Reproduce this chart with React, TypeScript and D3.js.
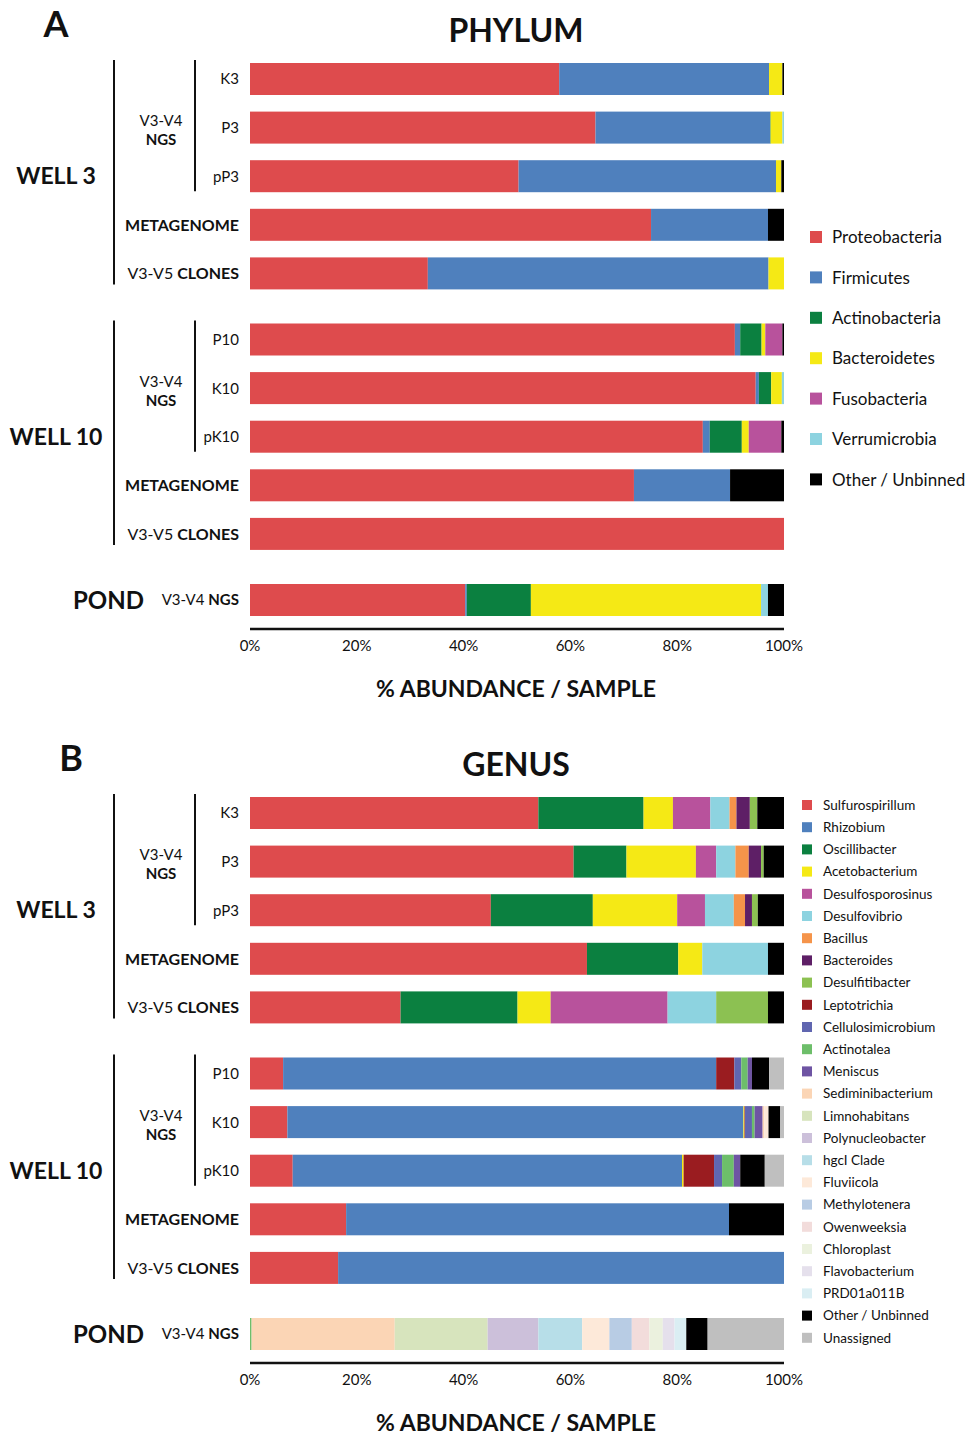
import React from "react";
import * as d3 from "d3";

const FONT = "Lato, 'Open Sans', sans-serif";

// ---------- Phylum level ----------
const phylumNames = [
  "Proteobacteria",
  "Firmicutes",
  "Actinobacteria",
  "Bacteroidetes",
  "Fusobacteria",
  "Verrumicrobia",
  "Other / Unbinned",
];
const phylumColors = ["#DE4B4D", "#4F80BD", "#0B8040", "#F5E915", "#B8529C", "#8DD3E0", "#000000"];

const phylumW3K3 = [57.9, 39.3, 0, 2.5, 0, 0, 0.3];
const phylumW3P3 = [64.7, 32.7, 0.1, 2.2, 0, 0.3, 0];
const phylumW3pP3 = [50.3, 48.2, 0, 1.0, 0, 0, 0.5];
const phylumW3Meta = [75.1, 21.9, 0, 0, 0, 0, 3.0];
const phylumW3Clones = [33.3, 63.8, 0, 2.9, 0, 0, 0];
const phylumW10P10 = [90.8, 1.0, 4.0, 0.7, 3.2, 0, 0.3];
const phylumW10K10 = [94.7, 0.6, 2.3, 2.0, 0, 0.4, 0];
const phylumW10pK10 = [84.8, 1.3, 6.0, 1.3, 6.1, 0, 0.5];
const phylumW10Meta = [71.9, 18.0, 0, 0, 0, 0, 10.1];
const phylumW10Clones = [100, 0, 0, 0, 0, 0, 0];
const phylumPond = [40.3, 0.3, 12.0, 43.1, 0, 1.3, 3.0];

// ---------- Genus level ----------
const genusNames = [
  "Sulfurospirillum",
  "Rhizobium",
  "Oscillibacter",
  "Acetobacterium",
  "Desulfosporosinus",
  "Desulfovibrio",
  "Bacillus",
  "Bacteroides",
  "Desulfitibacter",
  "Leptotrichia",
  "Cellulosimicrobium",
  "Actinotalea",
  "Meniscus",
  "Sediminibacterium",
  "Limnohabitans",
  "Polynucleobacter",
  "hgcI Clade",
  "Fluviicola",
  "Methylotenera",
  "Owenweeksia",
  "Chloroplast",
  "Flavobacterium",
  "PRD01a011B",
  "Other / Unbinned",
  "Unassigned",
];
const genusColors = [
  "#DE4B4D", "#4F80BD", "#0B8040", "#F5E915", "#B8529C", "#8DD3E0", "#F5944A",
  "#5E1F66", "#8CC152", "#9A1C20", "#6066B0", "#6DBE6A", "#6E54A3", "#FBD5B5",
  "#D7E4BD", "#CCC0DA", "#B7DEE8", "#FDE9D9", "#B8CCE4", "#F2DCDB", "#EBF1DE",
  "#E5E0EC", "#DAEEF3", "#000000", "#BFBFBF",
];

//                  Sul   Rhi   Osc   Ace   Dsp   Dvi   Bac  Bcd  Dsf  Lep  Cel  Act  Men  Sed   Lim   Pol  hgc  Flu  Met  Owe  Chl  Fla  PRD  Oth   Una
const genusW3K3 = [54.0, 0, 19.7, 5.5, 7.0, 3.6, 1.3, 2.5, 1.4, 0, 0, 0, 0, 0, 0, 0, 0, 0, 0, 0, 0, 0, 0, 5.0, 0];
const genusW3P3 = [60.6, 0, 9.9, 13.0, 3.8, 3.6, 2.5, 2.3, 0.5, 0, 0, 0, 0, 0, 0, 0, 0, 0, 0, 0, 0, 0, 0, 3.8, 0];
const genusW3pP3 = [45.1, 0, 19.1, 15.8, 5.2, 5.4, 2.1, 1.3, 1.1, 0, 0, 0, 0, 0, 0, 0, 0, 0, 0, 0, 0, 0, 0, 4.9, 0];
const genusW3Meta = [63.1, 0, 17.1, 4.5, 0, 12.3, 0, 0, 0, 0, 0, 0, 0, 0, 0, 0, 0, 0, 0, 0, 0, 0, 0, 3.0, 0];
const genusW3Clones = [28.2, 0, 21.9, 6.2, 21.9, 9.1, 0, 0, 9.7, 0, 0, 0, 0, 0, 0, 0, 0, 0, 0, 0, 0, 0, 0, 3.0, 0];
const genusW10P10 = [6.2, 81.1, 0, 0, 0, 0, 0, 0, 0, 3.4, 1.3, 1.2, 0.8, 0, 0, 0, 0, 0, 0, 0, 0, 0, 0, 3.2, 2.8];
const genusW10K10 = [7.0, 85.4, 0, 0.2, 0, 0, 0, 0, 0, 0.1, 1.3, 0.5, 1.5, 0.3, 0, 0, 0, 0.8, 0, 0, 0, 0, 0, 2.2, 0.7];
const genusW10pK10 = [8.0, 72.9, 0, 0.3, 0, 0, 0, 0, 0, 5.7, 1.5, 2.2, 1.2, 0, 0, 0, 0, 0, 0, 0, 0, 0, 0, 4.6, 3.6];
const genusW10Meta = [18.0, 71.7, 0, 0, 0, 0, 0, 0, 0, 0, 0, 0, 0, 0, 0, 0, 0, 0, 0, 0, 0, 0, 0, 10.3, 0];
const genusW10Clones = [16.5, 83.5, 0, 0, 0, 0, 0, 0, 0, 0, 0, 0, 0, 0, 0, 0, 0, 0, 0, 0, 0, 0, 0, 0, 0];
const genusPond = [0, 0, 0, 0, 0, 0, 0, 0, 0, 0, 0, 0.3, 0, 26.8, 17.4, 9.5, 8.2, 5.1, 4.2, 3.3, 2.5, 2.2, 2.2, 4.0, 14.3];

// Row slots: five Well 3 rows, five Well 10 rows, one pond row (with group gaps)
const rowSlots = [0, 1, 2, 3, 4, 5.36, 6.36, 7.36, 8.36, 9.36, 10.72];
const ticks = [0, 20, 40, 60, 80, 100];

const phylumRows = [
  phylumW3K3, phylumW3P3, phylumW3pP3, phylumW3Meta, phylumW3Clones,
  phylumW10P10, phylumW10K10, phylumW10pK10, phylumW10Meta, phylumW10Clones,
  phylumPond,
];
const genusRows = [
  genusW3K3, genusW3P3, genusW3pP3, genusW3Meta, genusW3Clones,
  genusW10P10, genusW10K10, genusW10pK10, genusW10Meta, genusW10Clones,
  genusPond,
];

type LegendSpec = { x: number; y0: number; step: number; box: number; fontSize: number; textX: number };

type PanelProps = {
  dy: number;
  letter: string;
  letterX: number;
  title: string;
  rows: number[][];
  names: string[];
  colors: string[];
  legend: LegendSpec;
};

function SampleLabel({ x, y, children, size = 15 }: { x: number; y: number; children: React.ReactNode; size?: number }) {
  return (
    <text x={x} y={y + size * 0.36} textAnchor="end" fontSize={size} fontFamily={FONT} fill="#111">
      {children}
    </text>
  );
}

function WellGroup({ y, first, name }: { y: (s: number) => number; first: number; name: string }) {
  const s = rowSlots.slice(first, first + 5);
  const top = y(s[0]) - 19;
  const bottom = y(s[4]) + 11;
  const innerBottom = y(s[2]) + 15;
  const mid = (y(s[0]) + y(s[4])) / 2;
  const ngsMid = y(s[1]);
  const labelX = 239;
  return (
    <g>
      <text x={56} y={mid + 23 * 0.36} textAnchor="middle" fontSize={23} fontWeight={700} fontFamily={FONT} fill="#111">
        {name}
      </text>
      <line x1={114} x2={114} y1={top} y2={bottom} stroke="#111" strokeWidth={2} />
      <line x1={195} x2={195} y1={top} y2={innerBottom} stroke="#111" strokeWidth={2} />
      <text x={161} y={ngsMid - 7 + 5.4} textAnchor="middle" fontSize={15} fontFamily={FONT} fill="#111">
        V3-V4
      </text>
      <text x={161} y={ngsMid + 12 + 5.4} textAnchor="middle" fontSize={15} fontWeight={700} fontFamily={FONT} fill="#111">
        NGS
      </text>
      {first === 0 ? (
        <>
          <SampleLabel x={labelX} y={y(s[0])}>K3</SampleLabel>
          <SampleLabel x={labelX} y={y(s[1])}>P3</SampleLabel>
          <SampleLabel x={labelX} y={y(s[2])}>pP3</SampleLabel>
        </>
      ) : (
        <>
          <SampleLabel x={labelX} y={y(s[0])}>P10</SampleLabel>
          <SampleLabel x={labelX} y={y(s[1])}>K10</SampleLabel>
          <SampleLabel x={labelX} y={y(s[2])}>pK10</SampleLabel>
        </>
      )}
      <text x={labelX} y={y(s[3]) + 16 * 0.36} textAnchor="end" fontSize={16} fontWeight={700} fontFamily={FONT} fill="#111">
        METAGENOME
      </text>
      <text x={labelX} y={y(s[4]) + 16 * 0.36} textAnchor="end" fontSize={16} fontFamily={FONT} fill="#111">
        <tspan>V3-V5 </tspan>
        <tspan fontWeight={700}>CLONES</tspan>
      </text>
    </g>
  );
}

function Panel({ dy, letter, letterX, title, rows, names, colors, legend }: PanelProps) {
  const x = d3.scaleLinear().domain([0, 100]).range([250, 784]);
  const y = d3.scaleLinear().domain([0, 10.72]).range([79 + dy, 600 + dy]);
  const barH = 32;
  const keys = names.map((_, i) => i);
  const series = d3
    .stack<number[], number>()
    .keys(keys)
    .value((d, k) => d[k])(rows);
  const axisY = y(rowSlots[10]) + 29;

  return (
    <g>
      <text x={letterX} y={37 + dy} textAnchor="middle" fontSize={36} fontWeight={700} fontFamily={FONT} fill="#111">
        {letter}
      </text>
      <text x={516} y={42 + dy} textAnchor="middle" fontSize={32} fontWeight={700} fontFamily={FONT} fill="#111">
        {title}
      </text>

      {series.map((ser) => (
        <g key={ser.key} fill={colors[ser.key]}>
          {ser.map((seg, i) =>
            seg[1] - seg[0] > 0 ? (
              <rect
                key={i}
                x={x(seg[0])}
                width={x(seg[1]) - x(seg[0])}
                y={y(rowSlots[i]) - barH / 2}
                height={barH}
              />
            ) : null
          )}
        </g>
      ))}

      <WellGroup y={y} first={0} name="WELL 3" />
      <WellGroup y={y} first={5} name="WELL 10" />

      <text x={144} y={y(rowSlots[10]) + 24 * 0.36} textAnchor="end" fontSize={24} fontWeight={700} fontFamily={FONT} fill="#111">
        POND
      </text>
      <text x={239} y={y(rowSlots[10]) + 15 * 0.36} textAnchor="end" fontSize={15} fontFamily={FONT} fill="#111">
        <tspan>V3-V4 </tspan>
        <tspan fontWeight={700}>NGS</tspan>
      </text>

      <line x1={x(0)} x2={x(100)} y1={axisY} y2={axisY} stroke="#111" strokeWidth={2.5} />
      {ticks.map((t) => (
        <text key={t} x={x(t)} y={axisY + 22} textAnchor="middle" fontSize={15} fontFamily={FONT} fill="#111">
          {t}%
        </text>
      ))}
      <text x={516} y={axisY + 68} textAnchor="middle" fontSize={23} fontWeight={700} fontFamily={FONT} fill="#111">
        % ABUNDANCE / SAMPLE
      </text>

      {names.map((n, i) => {
        const cy = legend.y0 + i * legend.step;
        return (
          <g key={n}>
            <rect x={legend.x} y={cy - legend.box / 2} width={legend.box} height={legend.box} fill={colors[i]} />
            <text x={legend.textX} y={cy + legend.fontSize * 0.36} fontSize={legend.fontSize} fontFamily={FONT} fill="#111">
              {n}
            </text>
          </g>
        );
      })}
    </g>
  );
}

export default function App() {
  return (
    <svg
      width={969}
      height={1436}
      viewBox="0 0 969 1436"
      style={{ position: "absolute", left: 0, top: 0, background: "#fff" }}
    >
      <rect width={969} height={1436} fill="#fff" />
      <Panel
        dy={0}
        letter="A"
        letterX={56}
        title="PHYLUM"
        rows={phylumRows}
        names={phylumNames}
        colors={phylumColors}
        legend={{ x: 810, y0: 237, step: 40.4, box: 12, fontSize: 17, textX: 832 }}
      />
      <Panel
        dy={734}
        letter="B"
        letterX={71}
        title="GENUS"
        rows={genusRows}
        names={genusNames}
        colors={genusColors}
        legend={{ x: 802, y0: 805, step: 22.2, box: 10, fontSize: 13.5, textX: 823 }}
      />
    </svg>
  );
}
